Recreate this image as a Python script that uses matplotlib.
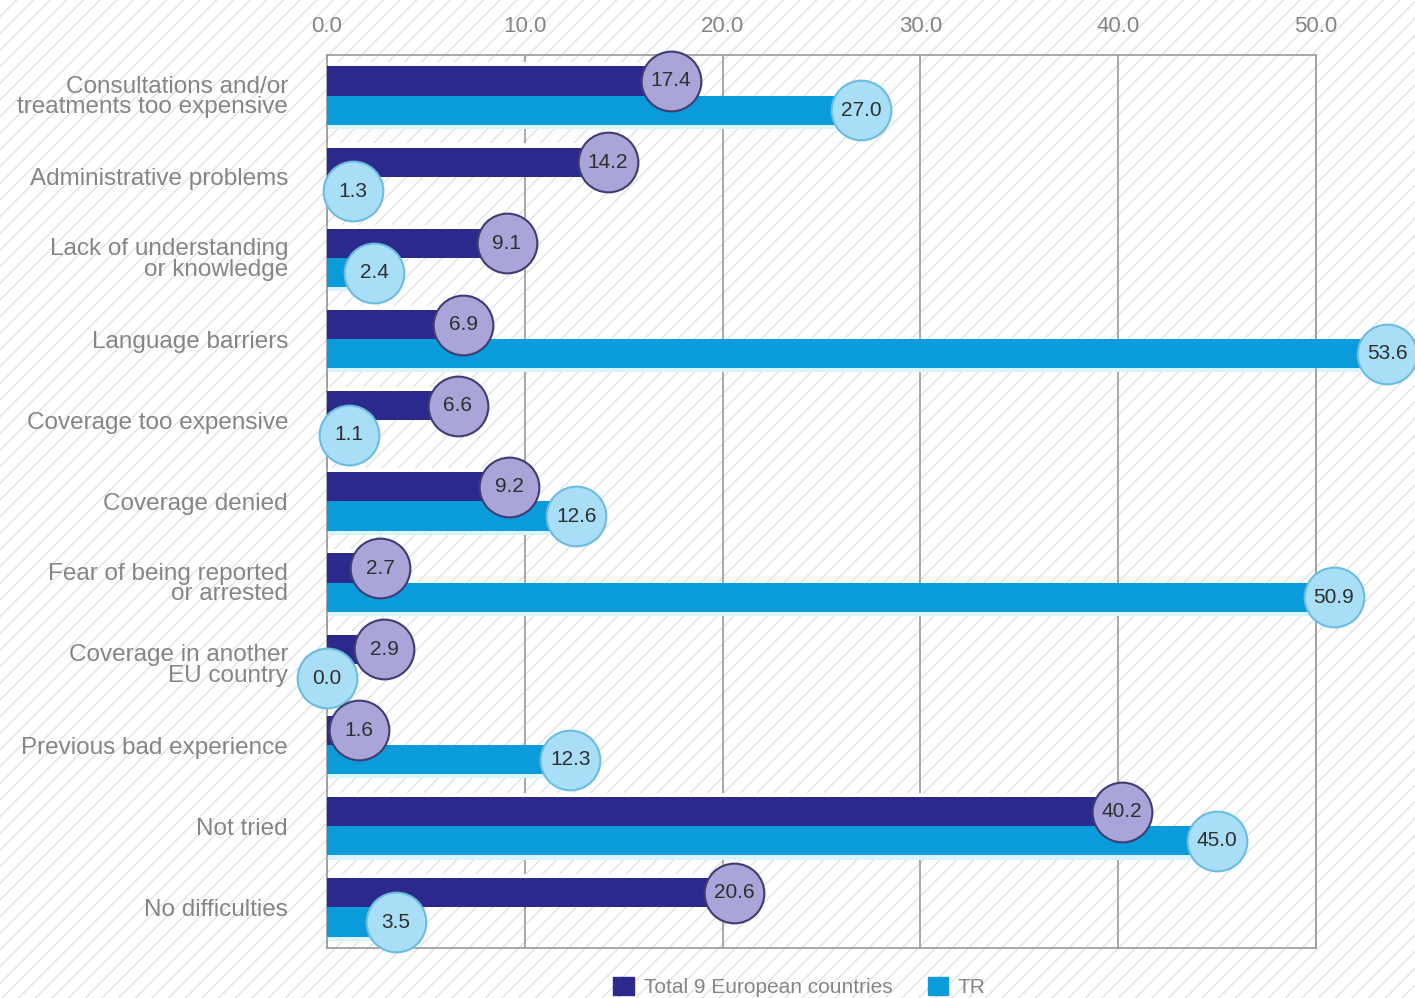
import numpy as np
import matplotlib.pyplot as plt
from matplotlib.patches import Rectangle, Patch

plt.rcParams['font.family'] = ['Liberation Sans', 'DejaVu Sans']
plt.rcParams['hatch.linewidth'] = 0.8

categories = ["Consultations and/or\ntreatments too expensive",
              "Administrative problems",
              "Lack of understanding\nor knowledge",
              "Language barriers",
              "Coverage too expensive",
              "Coverage denied",
              "Fear of being reported\nor arrested",
              "Coverage in another\nEU country",
              "Previous bad experience",
              "Not tried",
              "No difficulties"]
total_eu = [17.4, 14.2, 9.1, 6.9, 6.6, 9.2, 2.7, 2.9, 1.6, 40.2, 20.6]
tr = [27.0, 1.3, 2.4, 53.6, 1.1, 12.6, 50.9, 0.0, 12.3, 45.0, 3.5]
series_names = ["Total 9 European countries", "TR"]
xticks = [0, 10, 20, 30, 40, 50]

dark = '#2b2a8c'
light = '#0a9bda'
dark_dot = '#aaa5d9'
light_dot = '#a9def7'
grey = '#858585'

fig = plt.figure(figsize=(14.15, 9.98), dpi=100)
# striped page background
fig.patches.append(Rectangle((0, 0), 1, 1, transform=fig.transFigure,
                             facecolor='white', edgecolor='#dcdcdc',
                             hatch='//', linewidth=0, zorder=-10))

ax = fig.add_axes([0.2311, 0.0501, 0.6989, 0.8948])
ax.patch.set_alpha(0)

y = np.arange(len(categories))
h = 0.36

# pale halo behind each bar
ax.barh(y - h / 2 - 0.025, total_eu, height=h + 0.05, color='white', zorder=2, clip_on=False)
ax.barh(y + h / 2 + 0.025, tr, height=h + 0.05, color='#d9f4fd', zorder=2, clip_on=False)
ax.barh(y - h / 2, total_eu, height=h, color=dark, zorder=3, clip_on=False)
ax.barh(y + h / 2, tr, height=h, color=light, zorder=3, clip_on=False)

# value bubbles, each new one on top of the previous
z = 4
for i in range(len(categories)):
    for val, yy, fc, ec in [(total_eu[i], y[i] - h / 2, dark_dot, '#3e3c70'),
                            (tr[i], y[i] + h / 2, light_dot, '#6bbde0')]:
        ax.plot(val, yy, 'o', ms=43, mfc=fc, mec=ec, mew=1.5, zorder=z, clip_on=False)
        ax.text(val, yy, f"{val:.1f}", ha='center', va='center', fontsize=15,
                color='#2e2e2e', zorder=z + 0.5)
        z += 1

ax.set_xlim(0, 50)
ax.set_ylim(len(categories) - 0.5, -0.5)
ax.set_xticks(xticks)
ax.set_xticklabels([f"{t:.1f}" for t in xticks])
ax.xaxis.tick_top()
ax.tick_params(axis='x', length=0, pad=13, labelsize=16, labelcolor=grey)
ax.set_yticks(y)
ax.set_yticklabels(categories, linespacing=0.9)
ax.tick_params(axis='y', length=0, pad=28, labelsize=17.5, labelcolor=grey)
ax.grid(axis='x', color='#9a9a9a', linewidth=1.2, zorder=1)
ax.set_axisbelow(True)
for s in ax.spines.values():
    s.set_color('#9a9a9a')
    s.set_linewidth(1.2)

handles = [Patch(color=dark), Patch(color=light)]
fig.legend(handles, series_names, loc='center', bbox_to_anchor=(0.565, 0.011),
           ncol=2, frameon=False, fontsize=15, handlelength=1.0, handleheight=1.0,
           handletextpad=0.45, columnspacing=1.7, labelcolor=grey)

fig.savefig('out.png', dpi=100)
